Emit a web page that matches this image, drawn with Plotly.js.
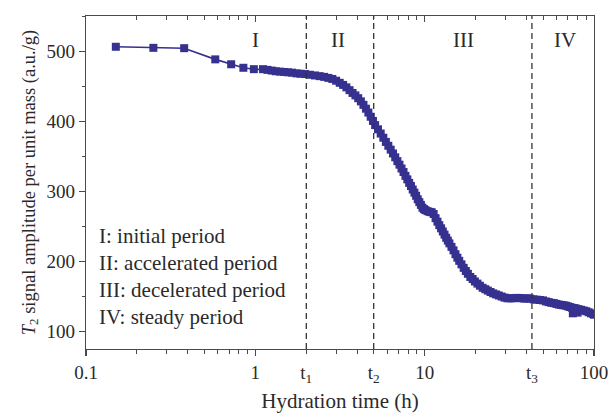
<!DOCTYPE html>
<html>
<head>
<meta charset="utf-8">
<script src="https://cdn.plot.ly/plotly-3.0.1.min.js"></script>
<style>html,body{margin:0;padding:0;background:#fff;}#chart{width:609px;height:417px;}</style>
</head>
<body>
<div id="chart"></div>
<script>
// Hydration time (h)
const hours = [
  0.15, 0.25, 0.38, 0.58, 0.72, 0.85, 0.98, 1.11, 1.18, 1.25, 1.32, 1.40, 1.48, 1.56, 1.65, 1.75, 1.85, 1.97,
  2.1, 2.25, 2.4, 2.55, 2.7, 2.85, 3.0, 3.15, 3.3, 3.45, 3.6, 3.75, 3.9, 4.05, 4.2, 4.35, 4.5, 4.65, 4.8, 4.95, 5.1,
  5.3, 5.5, 5.7, 5.9, 6.1, 6.3, 6.5, 6.7, 6.9, 7.1, 7.3, 7.5, 7.7, 7.9, 8.1, 8.3, 8.5, 8.7, 8.9, 9.1, 9.3, 9.5, 9.7, 9.9, 10.1,
  10.4, 10.7, 11.0, 11.3, 11.6, 11.9, 12.2, 12.5, 12.8, 13.1, 13.4, 13.7, 14.0, 14.4, 14.8, 15.2, 15.6, 16.0, 16.5, 17.0, 17.5, 18.0, 18.6, 19.2, 19.8,
  20.5, 21.2, 22.0, 22.8, 23.6, 24.5, 25.4, 26.4, 27.4, 28.5, 29.6, 30.8, 32, 33.3, 34.6, 36, 37.4, 38.9, 40.4, 42,
  44, 46, 48, 50, 52, 54, 56, 58, 60, 62, 64, 66, 68, 70, 72, 74, 75, 76, 78, 80, 81, 84, 87, 90, 93, 96, 99, 100
];
// T2 signal amplitude per unit mass (a.u./g)
const amplitude = [
  507, 505.5, 505, 489, 482, 477, 475, 475, 474, 473, 472, 471.5, 471, 470.5, 470, 469, 468.5, 468,
  467, 466, 465, 464, 462.5, 461, 458.5, 455.5, 452.5, 449, 445, 441, 437.5, 433.5, 429, 424, 418.5, 413, 407, 401, 395,
  389, 383, 377, 371, 365.5, 360, 354.5, 349, 343.5, 338.5, 333, 328, 322.5, 317.5, 312.5, 308, 303, 298.5, 294, 289, 285, 281, 277, 275, 273.5,
  272, 271, 270.5, 268, 262, 257, 252, 247.5, 243, 238.5, 234, 230, 226, 221, 216, 210.5, 205.5, 201, 196, 191, 186.5, 182.5, 178, 175, 171.5,
  168.5, 165.5, 162.5, 160.5, 158.5, 156.5, 154.5, 153, 151.5, 150, 148.5, 147.5, 147.5, 147.5, 148, 148, 147.5, 147, 147.5, 147,
  146, 145.5, 145, 144.5, 143, 142, 141, 140.5, 139.5, 138.5, 138, 137.5, 137, 136, 135, 134, 126, 133.5, 133, 127, 132, 131, 130, 129, 127.5, 126, 125, 124
];
// Period boundaries t1, t2, t3 (h)
const tMarks = [2, 5, 43];
const tLabels = ['t<sub>1</sub>', 't<sub>2</sub>', 't<sub>3</sub>'];
// Axis tick labels
const xTickVals = [0.1, 1, 10, 100];
const xTickText = ['0.1', '1', '10', '100'];
const yTickVals = [100, 200, 300, 400, 500];
// Period labels
const periodNames = ['I', 'II', 'III', 'IV'];
const periodX = [1.0, 3.08, 16.9, 67.5];
const periodY = 517;
const periodDescriptions = ['I: initial period', 'II: accelerated period', 'III: decelerated period', 'IV: steady period'];

const minorX = [];
[0.1, 1, 10].forEach(d => { for (let k = 2; k <= 9; k++) minorX.push(+(d * k).toPrecision(3)); });

const FONT = 'Liberation Serif, Times New Roman, serif';
const TXT = '#2a2a2a';
const AX = '#4a4a4a';
const BLUE = '#36308f';

const traces = [
  {
    x: hours, y: amplitude, type: 'scatter', mode: 'lines+markers',
    line: {color: BLUE, width: 1.6},
    marker: {symbol: 'square', size: 8, color: BLUE},
    showlegend: false, hoverinfo: 'skip'
  },
  {x: [null], y: [null], xaxis: 'x2', yaxis: 'y', type: 'scatter', mode: 'markers', showlegend: false, hoverinfo: 'skip'},
  {x: [null], y: [null], xaxis: 'x3', yaxis: 'y', type: 'scatter', mode: 'markers', showlegend: false, hoverinfo: 'skip'}
];

const xRange = [-1, 2];
const annotations = [];
periodNames.forEach((n, i) => annotations.push({
  x: Math.log10(periodX[i]), y: periodY, xref: 'x', yref: 'y', text: n, showarrow: false,
  font: {family: FONT, size: 21, color: TXT}
}));
const descY = [0.339, 0.258, 0.177, 0.096];
periodDescriptions.forEach((t, i) => annotations.push({
  x: 0.021, y: descY[i], xref: 'paper', yref: 'paper', text: t, showarrow: false,
  xanchor: 'left', yanchor: 'middle', font: {family: FONT, size: 21, color: TXT}
}));

const shapes = tMarks.map(t => ({
  type: 'line', xref: 'x', yref: 'paper', x0: t, x1: t, y0: 0, y1: 1,
  line: {color: '#333', width: 1.3, dash: '6px,4px'}
}));

const layout = {
  width: 609, height: 417,
  margin: {l: 86, r: 15, t: 16, b: 68},
  paper_bgcolor: '#fff', plot_bgcolor: '#fff',
  font: {family: FONT, size: 19, color: TXT},
  showlegend: false,
  xaxis: {
    type: 'log', range: xRange, tickmode: 'array', tickvals: xTickVals, ticktext: xTickText,
    ticks: 'outside', ticklen: 6, tickwidth: 1.2, tickcolor: AX, ticklabelstandoff: 0,
    minor: {ticks: 'outside', ticklen: 4, tickwidth: 1, tickcolor: AX, tickmode: 'array', tickvals: minorX, showgrid: false},
    showline: true, linecolor: AX, linewidth: 1.3, showgrid: false, zeroline: false,
    tickfont: {family: FONT, size: 19, color: TXT},
    title: {text: 'Hydration time (h)', font: {family: FONT, size: 21, color: TXT}, standoff: 11}
  },
  xaxis2: {
    type: 'log', range: xRange, overlaying: 'x', side: 'top', anchor: 'y',
    tickmode: 'array', tickvals: xTickVals, showticklabels: false,
    ticks: 'inside', ticklen: 6, tickwidth: 1.2, tickcolor: AX,
    minor: {ticks: 'inside', ticklen: 4, tickwidth: 1, tickcolor: AX, tickmode: 'array', tickvals: minorX, showgrid: false},
    showline: true, linecolor: AX, linewidth: 1.3, showgrid: false, zeroline: false
  },
  xaxis3: {
    type: 'log', range: xRange, overlaying: 'x', side: 'bottom', anchor: 'y',
    tickmode: 'array', tickvals: tMarks, ticktext: tLabels, ticks: 'outside', ticklen: 6, tickcolor: 'rgba(0,0,0,0)',
    ticklabelstandoff: 0,
    showline: false, showgrid: false, zeroline: false,
    tickfont: {family: FONT, size: 19, color: TXT}
  },
  yaxis: {
    range: [75, 551], tickmode: 'array', tickvals: yTickVals,
    ticks: 'outside', ticklen: 6, tickwidth: 1.2, tickcolor: AX,
    minor: {ticks: 'outside', ticklen: 3, tickwidth: 1, tickcolor: AX, dtick: 50, showgrid: false},
    showline: true, mirror: true, linecolor: AX, linewidth: 1.3, showgrid: false, zeroline: false,
    tickfont: {family: FONT, size: 19, color: TXT},
    title: {text: '<i>T</i><sub>2</sub> signal amplitude per unit mass (a.u./g)', font: {family: FONT, size: 18.5, color: TXT}, standoff: 6}
  },
  annotations: annotations,
  shapes: shapes
};

Plotly.newPlot('chart', traces, layout, {staticPlot: true, displayModeBar: false});
</script>
</body>
</html>
